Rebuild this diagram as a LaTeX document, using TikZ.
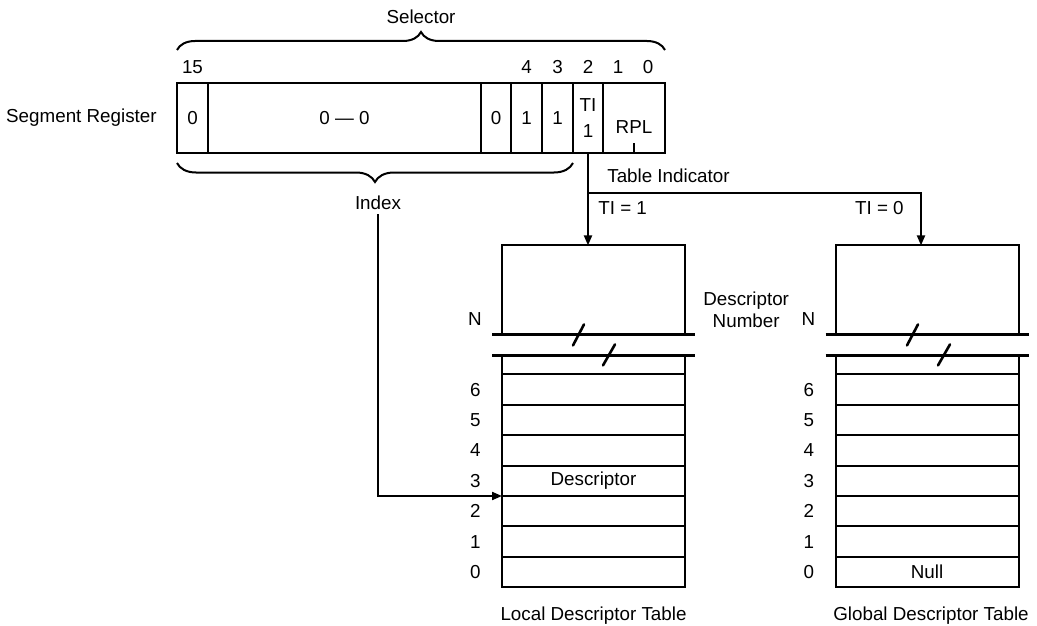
\documentclass[tikz,border=0pt]{standalone}
\usepackage{fontspec}
\setmainfont{Liberation Sans}
\usetikzlibrary{arrows.meta, positioning, decorations.pathreplacing}

\begin{document}
\begin{tikzpicture}[
x = 1pt, y = 1pt, % one unit per pixel
> = {Triangle[length=10pt, width=8pt]}, % arrow head style
line width = 2pt, % line style
font = \fontsize{18.8}{22}\selectfont
]
\tikzstyle{field}=[
draw,
minimum height = 70pt,
inner sep = 0pt,
outer sep = 0pt
]
\tikzstyle{row}=[
draw,
minimum width = 183pt,
minimum height = 30.4pt,
inner sep = 0pt,
outer sep = 0pt
]
\tikzstyle{brk}=[line width = 2.8pt]
\tikzstyle{slash}=[line width = 2.6pt, line cap = round]
\useasboundingbox (0,0) rectangle (1037,-626);

% segment register
\node[field, minimum width = 31pt] (f15) at (192.5,-118) {0};
\node[field, minimum width = 273pt, right = 0pt of f15] (fmid) {0 --- 0};
\node[field, minimum width = 30pt, right = 0pt of fmid] (f5) {0};
\node[field, minimum width = 31pt, right = 0pt of f5] (f4) {1};
\node[field, minimum width = 31pt, right = 0pt of f4] (f3) {1};
\node[field, minimum width = 30pt, right = 0pt of f3, align = center] (fti) {TI\\[4pt]1};
\node[field, minimum width = 62pt, right = 0pt of fti] (frpl) {};
\node at ([yshift=-9pt]frpl.center) {RPL};
\draw (frpl.south) -- ++(0,10);
\node[left = 16pt of f15] (segreg) {Segment Register};

% bit numbers
\node at ([yshift=16pt]f15.north) {15};
\node at ([yshift=16pt]f4.north) {4};
\node at ([yshift=16pt]f3.north) {3};
\node at ([yshift=16pt]fti.north) {2};
\node at ([xshift=-16pt,yshift=16pt]frpl.north) {1};
\node at ([xshift=14pt,yshift=16pt]frpl.north) {0};

% braces
\draw[decorate, decoration = {brace, amplitude = 18pt, raise = 33pt}] (f15.north west) -- (frpl.north east);
\node (sel) at (421,-17) {Selector};
\draw[decorate, decoration = {brace, amplitude = 19pt, raise = 10pt}] (f3.south east) -- (f15.south west);
\node (idx) at (378,-203) {Index};

% local descriptor table
\node[row] (ldt0) at (593.5,-572) {};
\foreach \i/\j in {1/0,2/1,3/2,4/3,5/4,6/5}
  \node[row, above = 0pt of ldt\j] (ldt\i) {};
\node[row, minimum height = 19pt, above = 0pt of ldt6] (ldtgap) {};
\node[row, minimum height = 89pt, above = 21pt of ldtgap] (ldttop) {};
\node at (ldt3) {Descriptor};
\draw[brk] ([xshift=-10pt]ldttop.south west) -- ([xshift=10pt]ldttop.south east);
\draw[brk] ([xshift=-10pt]ldtgap.north west) -- ([xshift=10pt]ldtgap.north east);
\draw[slash] ([xshift=-20.5pt,yshift=-11pt]ldttop.south) -- ++(11,21);
\draw[slash] ([xshift=9.5pt,yshift=-10pt]ldtgap.north) -- ++(12,21);
\node at ([xshift=-27pt,yshift=15pt]ldttop.south west) {N};
\node[align = center, anchor = west] (dnum) at ([xshift=14pt,yshift=25pt]ldttop.south east) {Descriptor\\Number};
\node[below = 15pt of ldt0] (ldtcap) {Local Descriptor Table};

% global descriptor table
\node[row] (gdt0) at (927,-572) {Null};
\foreach \i/\j in {1/0,2/1,3/2,4/3,5/4,6/5}
  \node[row, above = 0pt of gdt\j] (gdt\i) {};
\node[row, minimum height = 19pt, above = 0pt of gdt6] (gdtgap) {};
\node[row, minimum height = 89pt, above = 21pt of gdtgap] (gdttop) {};
\draw[brk] ([xshift=-10pt]gdttop.south west) -- ([xshift=10pt]gdttop.south east);
\draw[brk] ([xshift=-10pt]gdtgap.north west) -- ([xshift=10pt]gdtgap.north east);
\draw[slash] ([xshift=-20pt,yshift=-11pt]gdttop.south) -- ++(11,21);
\draw[slash] ([xshift=11pt,yshift=-10pt]gdtgap.north) -- ++(12,21);
\node at ([xshift=-27pt,yshift=15pt]gdttop.south west) {N};
\node[below = 15pt of gdt0, xshift = 4pt] (gdtcap) {Global Descriptor Table};

% row numbers
\foreach \i in {0,...,6} {
  \node[left = 17pt of ldt\i] {\i};
  \node[left = 17pt of gdt\i] {\i};
}

% table indicator
\coordinate (tibr) at ([yshift=-40pt]fti.south);
\coordinate (gdtin) at ([xshift=-6pt]gdttop.north);
\coordinate (ticorner) at (tibr -| gdtin);
\draw[->] (fti.south) -- (fti.south |- ldttop.north);
\draw[->] (tibr) -- (ticorner) -- (gdtin);
\node[above right = 6pt and 15pt of tibr] (tind) {Table Indicator};
\node[below right = 4pt and 6pt of tibr] (ti1) {TI = 1};
\node[below left = 4pt and 13pt of ticorner] (ti0) {TI = 0};

% index
\draw[->] (idx.south) |- (ldt3.south west);
\end{tikzpicture}
\end{document}
